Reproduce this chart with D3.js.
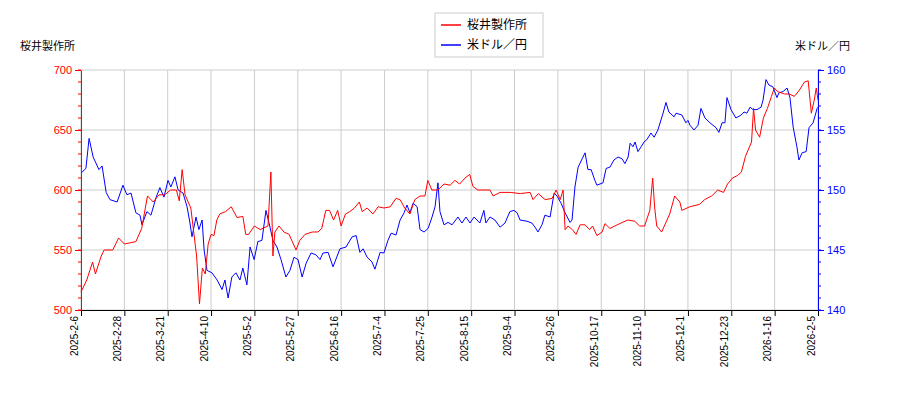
<!DOCTYPE html>
<meta charset="utf-8">
<html>
<head>
<script src="https://cdn.jsdelivr.net/npm/d3@7"></script>
<style>
  body { margin: 0; background: #fff; font-family: "Noto Sans CJK JP", "DejaVu Sans", sans-serif; }
</style>
</head>
<body>
<svg id="chart" width="900" height="400"></svg>
<script>
  // x = trading day index, y = value
  const stockData = [[0,515],[2,525],[4,540],[5,530],[7,545],[8,550],[11,550],[13,560],[15,555],[17,556],[19,557],[21,568],[23,595],[25,590],[26,593],[27,596],[29,596],[31,600],[33,600],[34,591],[35,617],[36,596],[38,585],[39,565],[40,545],[41,505],[42,535],[43,530],[44,555],[45,563],[46,562],[47,575],[48,580],[50,582],[52,586],[54,577],[56,578],[57,563],[58,563],[60,570],[62,567],[64.7,570],[65.7,615],[66.4,545],[67.1,565],[68.5,570],[70.2,565],[72,563],[74.4,550],[75.7,558],[77.5,563],[80,565],[82,565],[83.3,568],[84.7,583],[86,583],[87.4,575],[88.8,583],[90,570],[91.5,580],[93,582],[94.6,585],[96.3,590],[97.3,582],[99,585],[101,580],[102.8,586],[104.8,585],[107,586],[109,593],[110.4,592],[112,585],[113.8,580],[115.5,592],[117.3,595],[119,595],[120,608],[121.4,600],[123.5,600],[125.6,605],[127.7,604],[129.4,608],[131,605],[132.9,610],[134.5,613],[135.6,603],[137.3,600],[139.4,600],[141.5,600],[142.6,595],[145,598],[148.5,598],[152,597],[155.4,598],[156.4,592],[158.2,597],[160.6,592],[163,593],[164.4,600],[165.8,592],[166.8,600],[167.5,567],[168.5,570],[170,567],[171.3,563],[172.7,571],[174.4,571],[176,567],[177,570],[178.5,562],[180.3,565],[181.3,572],[183,568],[184.7,570],[186.4,572],[189.2,575],[191.6,574],[193.3,570],[195,570],[196.8,583],[197.8,610],[198.5,585],[199.2,570],[200.9,565],[203.7,580],[205.4,595],[207.2,590],[207.9,583],[210.6,586],[214,588],[215.8,592],[218.2,595],[220.3,600],[222.3,598],[223.7,605],[225.4,610],[227.1,612],[228.5,615],[229.9,628],[232,640],[232.7,668],[233.4,650],[234.8,644],[236.1,660],[237.5,668],[238.9,678],[239.9,685],[241,682],[243.4,680],[245.1,680],[246.8,678],[248.5,683],[250.3,690],[251.6,691],[252.7,664],[253.7,675],[254.4,685],[255,675]];
  const fxData = [[0,151.4],[1.7,151.8],[2.8,154.3],[4.2,152.75],[6.2,151.7],[7.3,152],[8.7,149.8],[10,149.2],[12.5,149],[14.5,150.4],[15.9,149.6],[17.3,149.75],[19,148.1],[20.4,147.9],[21.1,147.1],[22.8,148.2],[24.2,147.9],[26,149.4],[27.3,150.2],[28.7,149.4],[30.1,150.8],[31.1,150.25],[32.5,151.1],[33.6,150],[35.3,149.75],[36.7,148.6],[37.7,147.25],[38.4,146.1],[39.8,147.75],[40.8,146.7],[41.9,147.5],[42.6,145],[43.6,143.3],[45.3,143.1],[47.1,142.5],[48.8,141.7],[49.8,142.5],[50.9,141],[52.2,142.75],[53.6,143.1],[55,142.5],[56,143.5],[57.4,142.1],[58.5,145.25],[59.9,144.2],[61.2,145.7],[62.6,145.8],[64,148.3],[65.4,146.9],[66.4,145.8],[67.8,145.25],[69.2,144.2],[70.9,142.75],[72.3,143.3],[73.7,144.4],[75.1,144.2],[76.5,142.75],[77.9,143.9],[79.6,144.75],[81.3,144.6],[82.7,144.2],[83.7,144.75],[85.5,144.8],[87.2,143.6],[89.6,145.1],[91.7,145.25],[93.8,146.1],[95.2,146.2],[96.5,144.8],[97.6,145.1],[99,144.4],[100.7,144],[101.7,143.4],[103.5,144.8],[104.8,144.75],[106.2,145.8],[107.3,146.4],[109,146.25],[110.4,147.5],[111.8,148.1],[112.8,148.75],[113.8,148.1],[114.9,148.9],[116.3,148.6],[117.3,146.7],[118.7,146.5],[120.1,146.8],[121.4,147.7],[122.5,148.6],[123.5,150.6],[124.2,148.2],[125.6,147.1],[127,147.3],[128.4,147.1],[130.4,147.75],[131.8,147.25],[133.2,147.75],[134.6,147.25],[136,147.75],[138,147.25],[139.4,148.3],[140.1,147.25],[141.5,147.75],[143.2,147.5],[145,146.9],[146.7,147.25],[148.4,148.2],[149.8,148.3],[150.9,148.1],[151.9,147.5],[154.3,147.4],[156,147.25],[157.1,146.9],[158.1,146.5],[159.5,147.1],[160.5,147.9],[162.3,147.75],[163.7,149.75],[164.7,149.5],[166.1,148.9],[167.5,148.1],[169.2,147.3],[169.9,147.5],[170.9,150.25],[172,151.9],[173.7,152.75],[174.4,153.1],[175.4,151.7],[176.5,151.7],[177.8,150.8],[178.5,150.4],[180.6,150.6],[181.7,151.8],[183,151.9],[184.4,152.5],[185.8,152.75],[187.2,152.6],[188.2,152.2],[189.3,152.75],[190,153.9],[191,153.6],[191.7,154],[192.7,153.2],[193.8,153.6],[194.8,154],[195.8,154.2],[197.2,154.75],[198.3,154.4],[199.6,155],[201.4,156.4],[202.4,157.3],[203.4,156.5],[205.2,156.1],[205.9,156.4],[207.9,156.25],[209.3,155.6],[210,155.8],[210.7,155.4],[212.1,155],[213.5,155.4],[214.5,156.8],[215.9,156],[217.6,155.6],[219.7,155.2],[220.7,154.8],[221.8,155.6],[222.8,155.6],[223.5,157.7],[224.9,156.7],[226.6,156],[228.4,156.25],[229.4,156.5],[230.4,156.4],[231.5,156.9],[232.5,156.7],[233.9,156.7],[235.3,156.9],[236,157.5],[237,159.2],[238,158.75],[239.4,158.6],[240.8,157.7],[241.5,158.1],[242.9,158.2],[244.3,158.5],[245.3,157.7],[246.4,155.25],[247.7,153.6],[248.4,152.5],[249.5,153.1],[250.9,153.2],[251.9,155.2],[253.3,155.6],[254.7,156.8],[255,156.9]];
  const tickIdx = [0,15,30,45,60,75,90,105,120,135,150,165,180,195,210,225,240,255];
  const tickLabels = ["2025-2-6","2025-2-28","2025-3-21","2025-4-10","2025-5-2","2025-5-27","2025-6-16","2025-7-4","2025-7-25","2025-8-15","2025-9-4","2025-9-26","2025-10-17","2025-11-10","2025-12-1","2025-12-23","2026-1-16","2026-2-5"];
  const leftTicks = [500,550,600,650,700];
  const rightTicks = [140,145,150,155,160];

  const svg = d3.select("#chart");
  const m = {l: 81, r: 82, t: 70, b: 90};
  const W = 900 - m.l - m.r, H = 400 - m.t - m.b;
  const g = svg.append("g").attr("transform", `translate(${m.l},${m.t})`);

  const x = d3.scaleLinear().domain([0,255]).range([0,W]);
  const yL = d3.scaleLinear().domain([500,700]).range([H,0]);
  const yR = d3.scaleLinear().domain([140,160]).range([H,0]);

  // grid
  g.selectAll(".gx").data(tickIdx).join("line")
    .attr("x1", d => x(d)).attr("x2", d => x(d)).attr("y1", 0).attr("y2", H)
    .attr("stroke", "#ccc");
  g.selectAll(".gy").data(leftTicks).join("line")
    .attr("x1", 0).attr("x2", W).attr("y1", d => yL(d)).attr("y2", d => yL(d))
    .attr("stroke", "#ccc");

  const lineL = d3.line().x(d => x(d[0])).y(d => yL(d[1]));
  const lineR = d3.line().x(d => x(d[0])).y(d => yR(d[1]));
  g.append("path").datum(fxData).attr("d", lineR).attr("fill", "none").attr("stroke", "#0000ff").attr("stroke-width", 1);
  g.append("path").datum(stockData).attr("d", lineL).attr("fill", "none").attr("stroke", "#ff0000").attr("stroke-width", 1);

  const ax = g.append("g").attr("transform", `translate(0,${H})`)
    .call(d3.axisBottom(x).tickValues(tickIdx).tickFormat((d, i) => tickLabels[i]).tickSizeOuter(0));
  ax.selectAll("text").attr("transform", "rotate(-90)").attr("text-anchor", "end")
    .attr("x", -6).attr("y", -4).attr("dy", 0).style("font-size", "10px");

  const al = g.append("g").call(d3.axisLeft(yL).tickValues(leftTicks).tickSizeOuter(0));
  al.select(".domain").attr("stroke", "red");
  al.selectAll("line").attr("stroke", "red");
  al.selectAll("text").attr("fill", "red").style("font-size", "11px");
  const ar = g.append("g").attr("transform", `translate(${W},0)`)
    .call(d3.axisRight(yR).tickValues(rightTicks).tickSizeOuter(0));
  ar.select(".domain").attr("stroke", "blue");
  ar.selectAll("line").attr("stroke", "blue");
  ar.selectAll("text").attr("fill", "blue").style("font-size", "11px");
  // minor ticks
  g.selectAll(".ml").data(d3.range(500, 701, 10)).join("line")
    .attr("x1", -3).attr("x2", 0).attr("y1", d => yL(d)).attr("y2", d => yL(d)).attr("stroke", "red");
  g.selectAll(".mr").data(d3.range(140, 160.01, 1)).join("line")
    .attr("x1", W).attr("x2", W + 3).attr("y1", d => yR(d)).attr("y2", d => yR(d)).attr("stroke", "blue");

  svg.append("text").attr("x", 20).attr("y", 50).style("font-size", "11px").text("桜井製作所");
  svg.append("text").attr("x", 850).attr("y", 50).attr("text-anchor", "end").style("font-size", "11px").text("米ドル／円");

  const lg = svg.append("g").attr("transform", "translate(435,13)");
  lg.append("rect").attr("width", 108).attr("height", 44).attr("fill", "#fff").attr("stroke", "#ccc");
  [["桜井製作所", "red"], ["米ドル／円", "blue"]].forEach((d, i) => {
    lg.append("line").attr("x1", 6).attr("x2", 26).attr("y1", 12 + i * 20).attr("y2", 12 + i * 20).attr("stroke", d[1]).attr("stroke-width", 1.5);
    lg.append("text").attr("x", 32).attr("y", 16 + i * 20).style("font-size", "12px").text(d[0]);
  });
</script>
</body>
</html>
